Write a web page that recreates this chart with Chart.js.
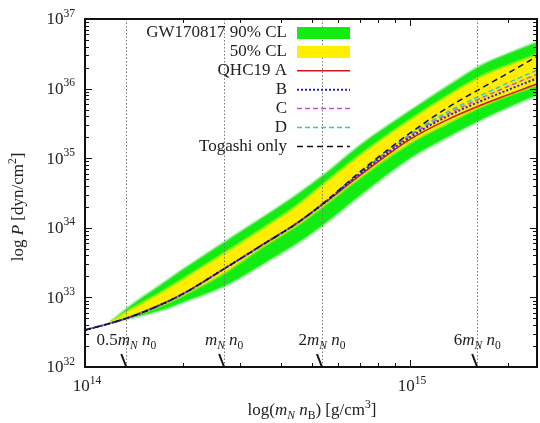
<!DOCTYPE html>
<html>
<head>
<meta charset="utf-8">
<script src="https://cdn.jsdelivr.net/npm/chart.js@4.4.1/dist/chart.umd.min.js"></script>
<style>
  html, body { margin: 0; padding: 0; background: #fff; }
  #wrap { width: 540px; height: 423px; position: relative; }
</style>
</head>
<body>
<div id="wrap"><canvas id="eos"></canvas></div>
<script>
const SERIF = '"Liberation Serif", "DejaVu Serif", serif';

// mass density grid [g/cm^3], pressures stored as log10 P [dyn/cm^2]
const rho = [1e14, 1.2e14, 1.4e14, 1.7e14, 2e14, 2.7e14, 3.5e14, 4.5e14, 5.5e14, 7e14, 1e15, 1.3e15, 1.65e15, 2e15, 2.5e15];
const togashi = [32.53, 32.63, 32.73, 32.89, 33.05, 33.42, 33.75, 34.07, 34.38, 34.80, 35.36, 35.72, 36.00, 36.22, 36.48];
const qhcA = [32.53, 32.63, 32.73, 32.89, 33.05, 33.42, 33.75, 34.07, 34.37, 34.75, 35.27, 35.55, 35.76, 35.91, 36.08];
const qhcB = [32.53, 32.63, 32.73, 32.89, 33.05, 33.42, 33.75, 34.07, 34.37, 34.77, 35.30, 35.60, 35.82, 35.98, 36.16];
const qhcC = [32.53, 32.63, 32.73, 32.89, 33.05, 33.42, 33.75, 34.07, 34.38, 34.78, 35.32, 35.63, 35.86, 36.03, 36.22];
const qhcD = [32.53, 32.63, 32.73, 32.89, 33.05, 33.42, 33.75, 34.07, 34.38, 34.79, 35.34, 35.66, 35.90, 36.08, 36.28];

// GW170817 credible bands
const bandRho = [1.2e14, 1.4e14, 1.7e14, 2e14, 2.7e14, 3.5e14, 4.5e14, 5.5e14, 7e14, 1e15, 1.3e15, 1.65e15, 2e15, 2.5e15];
const cl90lo = [32.65, 32.71, 32.81, 32.93, 33.17, 33.47, 33.78, 34.07, 34.46, 35.00, 35.30, 35.55, 35.73, 35.92];
const cl90hi = [32.65, 32.90, 33.17, 33.40, 33.80, 34.14, 34.48, 34.78, 35.18, 35.68, 36.03, 36.33, 36.50, 36.68];
const cl50lo = [32.65, 32.74, 32.88, 33.03, 33.36, 33.72, 34.04, 34.34, 34.72, 35.22, 35.50, 35.74, 35.90, 36.06];
const cl50hi = [32.65, 32.84, 33.06, 33.26, 33.64, 33.98, 34.32, 34.65, 35.04, 35.55, 35.89, 36.17, 36.33, 36.50];

// multiples of m_N n_0
const markRho = [1.34e14, 2.68e14, 5.36e14, 1.61e15];
const markPrefix = ['0.5', '', '2', '6'];

const xMin = 1e14, xMax = 2.46e15;
const yMin = 1e32, yMax = 1e37;

const pts = (xs, logs) => xs.map((x, i) => ({ x, y: Math.pow(10, logs[i]) }));

function segFont(s, size) {
  const sz = (s.sub || s.sup) ? size * 0.68 : size;
  return `${s.it ? 'italic ' : ''}${sz}px ${SERIF}`;
}

function drawRich(ctx, segs, x, y, align, size) {
  ctx.textBaseline = 'middle';
  ctx.textAlign = 'left';
  let w = 0;
  segs.forEach(s => { ctx.font = segFont(s, size); w += ctx.measureText(s.t).width; });
  let cx = align === 'center' ? x - w / 2 : align === 'right' ? x - w : x;
  segs.forEach(s => {
    ctx.font = segFont(s, size);
    const dy = s.sub ? size * 0.28 : s.sup ? -size * 0.38 : 0;
    ctx.fillText(s.t, cx, y + dy);
    cx += ctx.measureText(s.t).width;
  });
}

const pow10 = (e) => [{ t: '10' }, { t: String(e), sup: true }];

const decor = {
  id: 'decor',
  afterDatasetsDraw(chart) {
    const { ctx, chartArea: a, scales: { x } } = chart;
    ctx.save();
    ctx.beginPath();
    ctx.rect(a.left, a.top, a.right - a.left, a.bottom - a.top);
    ctx.clip();
    // dotted density markers
    ctx.strokeStyle = '#777';
    ctx.lineWidth = 1;
    ctx.setLineDash([1.5, 2]);
    markRho.forEach(r => {
      const px = Math.round(x.getPixelForValue(r)) + 0.5;
      ctx.beginPath(); ctx.moveTo(px, a.top); ctx.lineTo(px, a.bottom); ctx.stroke();
    });
    ctx.setLineDash([]);
    ctx.restore();
  },
  afterDraw(chart) {
    const { ctx, chartArea: a, scales: { x, y } } = chart;
    ctx.save();
    ctx.fillStyle = '#222';
    ctx.strokeStyle = '#111';

    // marker labels and slanted ticks
    markRho.forEach((r, i) => {
      const px = x.getPixelForValue(r);
      const segs = [];
      if (markPrefix[i]) segs.push({ t: markPrefix[i] });
      segs.push({ t: 'm', it: true }, { t: 'N', it: true, sub: true }, { t: ' ' }, { t: 'n', it: true }, { t: '0', sub: true });
      drawRich(ctx, segs, px, a.bottom - 26, 'center', 17);
      ctx.lineWidth = 2;
      ctx.beginPath(); ctx.moveTo(px - 5, a.bottom - 13); ctx.lineTo(px, a.bottom); ctx.stroke();
    });

    // ticks on all four sides
    ctx.lineWidth = 1;
    for (let e = 14; e <= 15; e++) {
      for (let k = 1; k <= 9; k++) {
        const v = k * Math.pow(10, e);
        if (v < xMin || v > xMax) continue;
        const px = Math.round(x.getPixelForValue(v)) + 0.5;
        const len = k === 1 ? 7 : 4;
        ctx.beginPath();
        ctx.moveTo(px, a.bottom); ctx.lineTo(px, a.bottom - len);
        ctx.moveTo(px, a.top); ctx.lineTo(px, a.top + len);
        ctx.stroke();
      }
    }
    for (let e = 32; e <= 37; e++) {
      for (let k = 1; k <= 9; k++) {
        const v = k * Math.pow(10, e);
        if (v < yMin || v > yMax) continue;
        const py = Math.round(y.getPixelForValue(v)) + 0.5;
        const len = k === 1 ? 7 : 4;
        ctx.beginPath();
        ctx.moveTo(a.left, py); ctx.lineTo(a.left + len, py);
        ctx.moveTo(a.right, py); ctx.lineTo(a.right - len, py);
        ctx.stroke();
      }
    }

    // frame
    ctx.lineWidth = 2;
    ctx.strokeRect(a.left, a.top, a.right - a.left, a.bottom - a.top);

    // tick labels
    for (let e = 32; e <= 37; e++) {
      drawRich(ctx, pow10(e), a.left - 10, y.getPixelForValue(Math.pow(10, e)) + 1, 'right', 17);
    }
    [14, 15].forEach(e => {
      drawRich(ctx, pow10(e), x.getPixelForValue(Math.pow(10, e)) + 2, a.bottom + 20, 'center', 17);
    });

    // axis titles
    drawRich(ctx, [{ t: 'log(' }, { t: 'm', it: true }, { t: 'N', it: true, sub: true }, { t: ' ' }, { t: 'n', it: true },
      { t: 'B', sub: true }, { t: ') [g/cm' }, { t: '3', sup: true }, { t: ']' }], 312, 411, 'center', 17);
    ctx.save();
    ctx.translate(19, 207);
    ctx.rotate(-Math.PI / 2);
    drawRich(ctx, [{ t: 'log ' }, { t: 'P', it: true }, { t: ' [dyn/cm' }, { t: '2', sup: true }, { t: ']' }], 0, 0, 'center', 17);
    ctx.restore();

    // legend: text right-aligned, sample to the right
    const rows = chart.data.datasets.filter(d => d.label && d.label[0] !== '_');
    rows.forEach((d, i) => {
      const ry = 33 + i * 18.9;
      ctx.fillStyle = '#222';
      drawRich(ctx, [{ t: d.label }], 287, ry, 'right', 17);
      if (d.fill) {
        ctx.fillStyle = d.backgroundColor;
        ctx.fillRect(297, ry - 6, 53, 12);
      } else {
        ctx.strokeStyle = d.borderColor;
        ctx.lineWidth = d.borderWidth;
        ctx.setLineDash(d.borderDash || []);
        ctx.beginPath(); ctx.moveTo(297, ry); ctx.lineTo(350, ry); ctx.stroke();
        ctx.setLineDash([]);
      }
    });
    ctx.restore();
  }
};

const lineDs = (label, logs, color, dash, width, order) => ({
  label, data: pts(rho, logs), borderColor: color, borderDash: dash, borderWidth: width,
  pointRadius: 0, fill: false, cubicInterpolationMode: 'monotone', order
});

// soft edge stroke mimics the blurred band border of the original
const bandDs = (label, xs, logs, fill, color, edge, order) => ({
  label, data: pts(xs, logs), borderWidth: 3, borderColor: edge, pointRadius: 0, fill, backgroundColor: color,
  cubicInterpolationMode: 'monotone', order
});

new Chart(document.getElementById('eos'), {
  type: 'line',
  data: {
    datasets: [
      bandDs('_cl90lo', bandRho, cl90lo, false, 'transparent', 'rgba(60,235,60,0.45)', 4),
      bandDs('GW170817 90% CL', bandRho, cl90hi, '-1', '#12ec12', 'rgba(60,235,60,0.45)', 4),
      bandDs('_cl50lo', bandRho, cl50lo, false, 'transparent', 'rgba(190,240,10,0.6)', 3),
      bandDs('50% CL', bandRho, cl50hi, '-1', '#ffee00', 'rgba(190,240,10,0.6)', 3),
      lineDs('QHC19 A', qhcA, '#d01818', [], 1.5, 2),
      lineDs('B', qhcB, '#2222cc', [2, 2], 2, 1),
      lineDs('C', qhcC, '#c050d0', [5, 3], 1.5, 1),
      lineDs('D', qhcD, '#20d0d8', [5, 3], 1.5, 1),
      lineDs('Togashi only', togashi, '#111', [6, 4], 1.5, 0)
    ]
  },
  options: {
    responsive: true,
    maintainAspectRatio: false,
    animation: false,
    layout: { padding: { left: 85, top: 19, right: 3, bottom: 56 } },
    scales: {
      x: { type: 'logarithmic', min: xMin, max: xMax, display: false },
      y: { type: 'logarithmic', min: yMin, max: yMax, display: false }
    },
    plugins: { legend: { display: false }, tooltip: { enabled: false } }
  },
  plugins: [decor]
});
</script>
</body>
</html>
